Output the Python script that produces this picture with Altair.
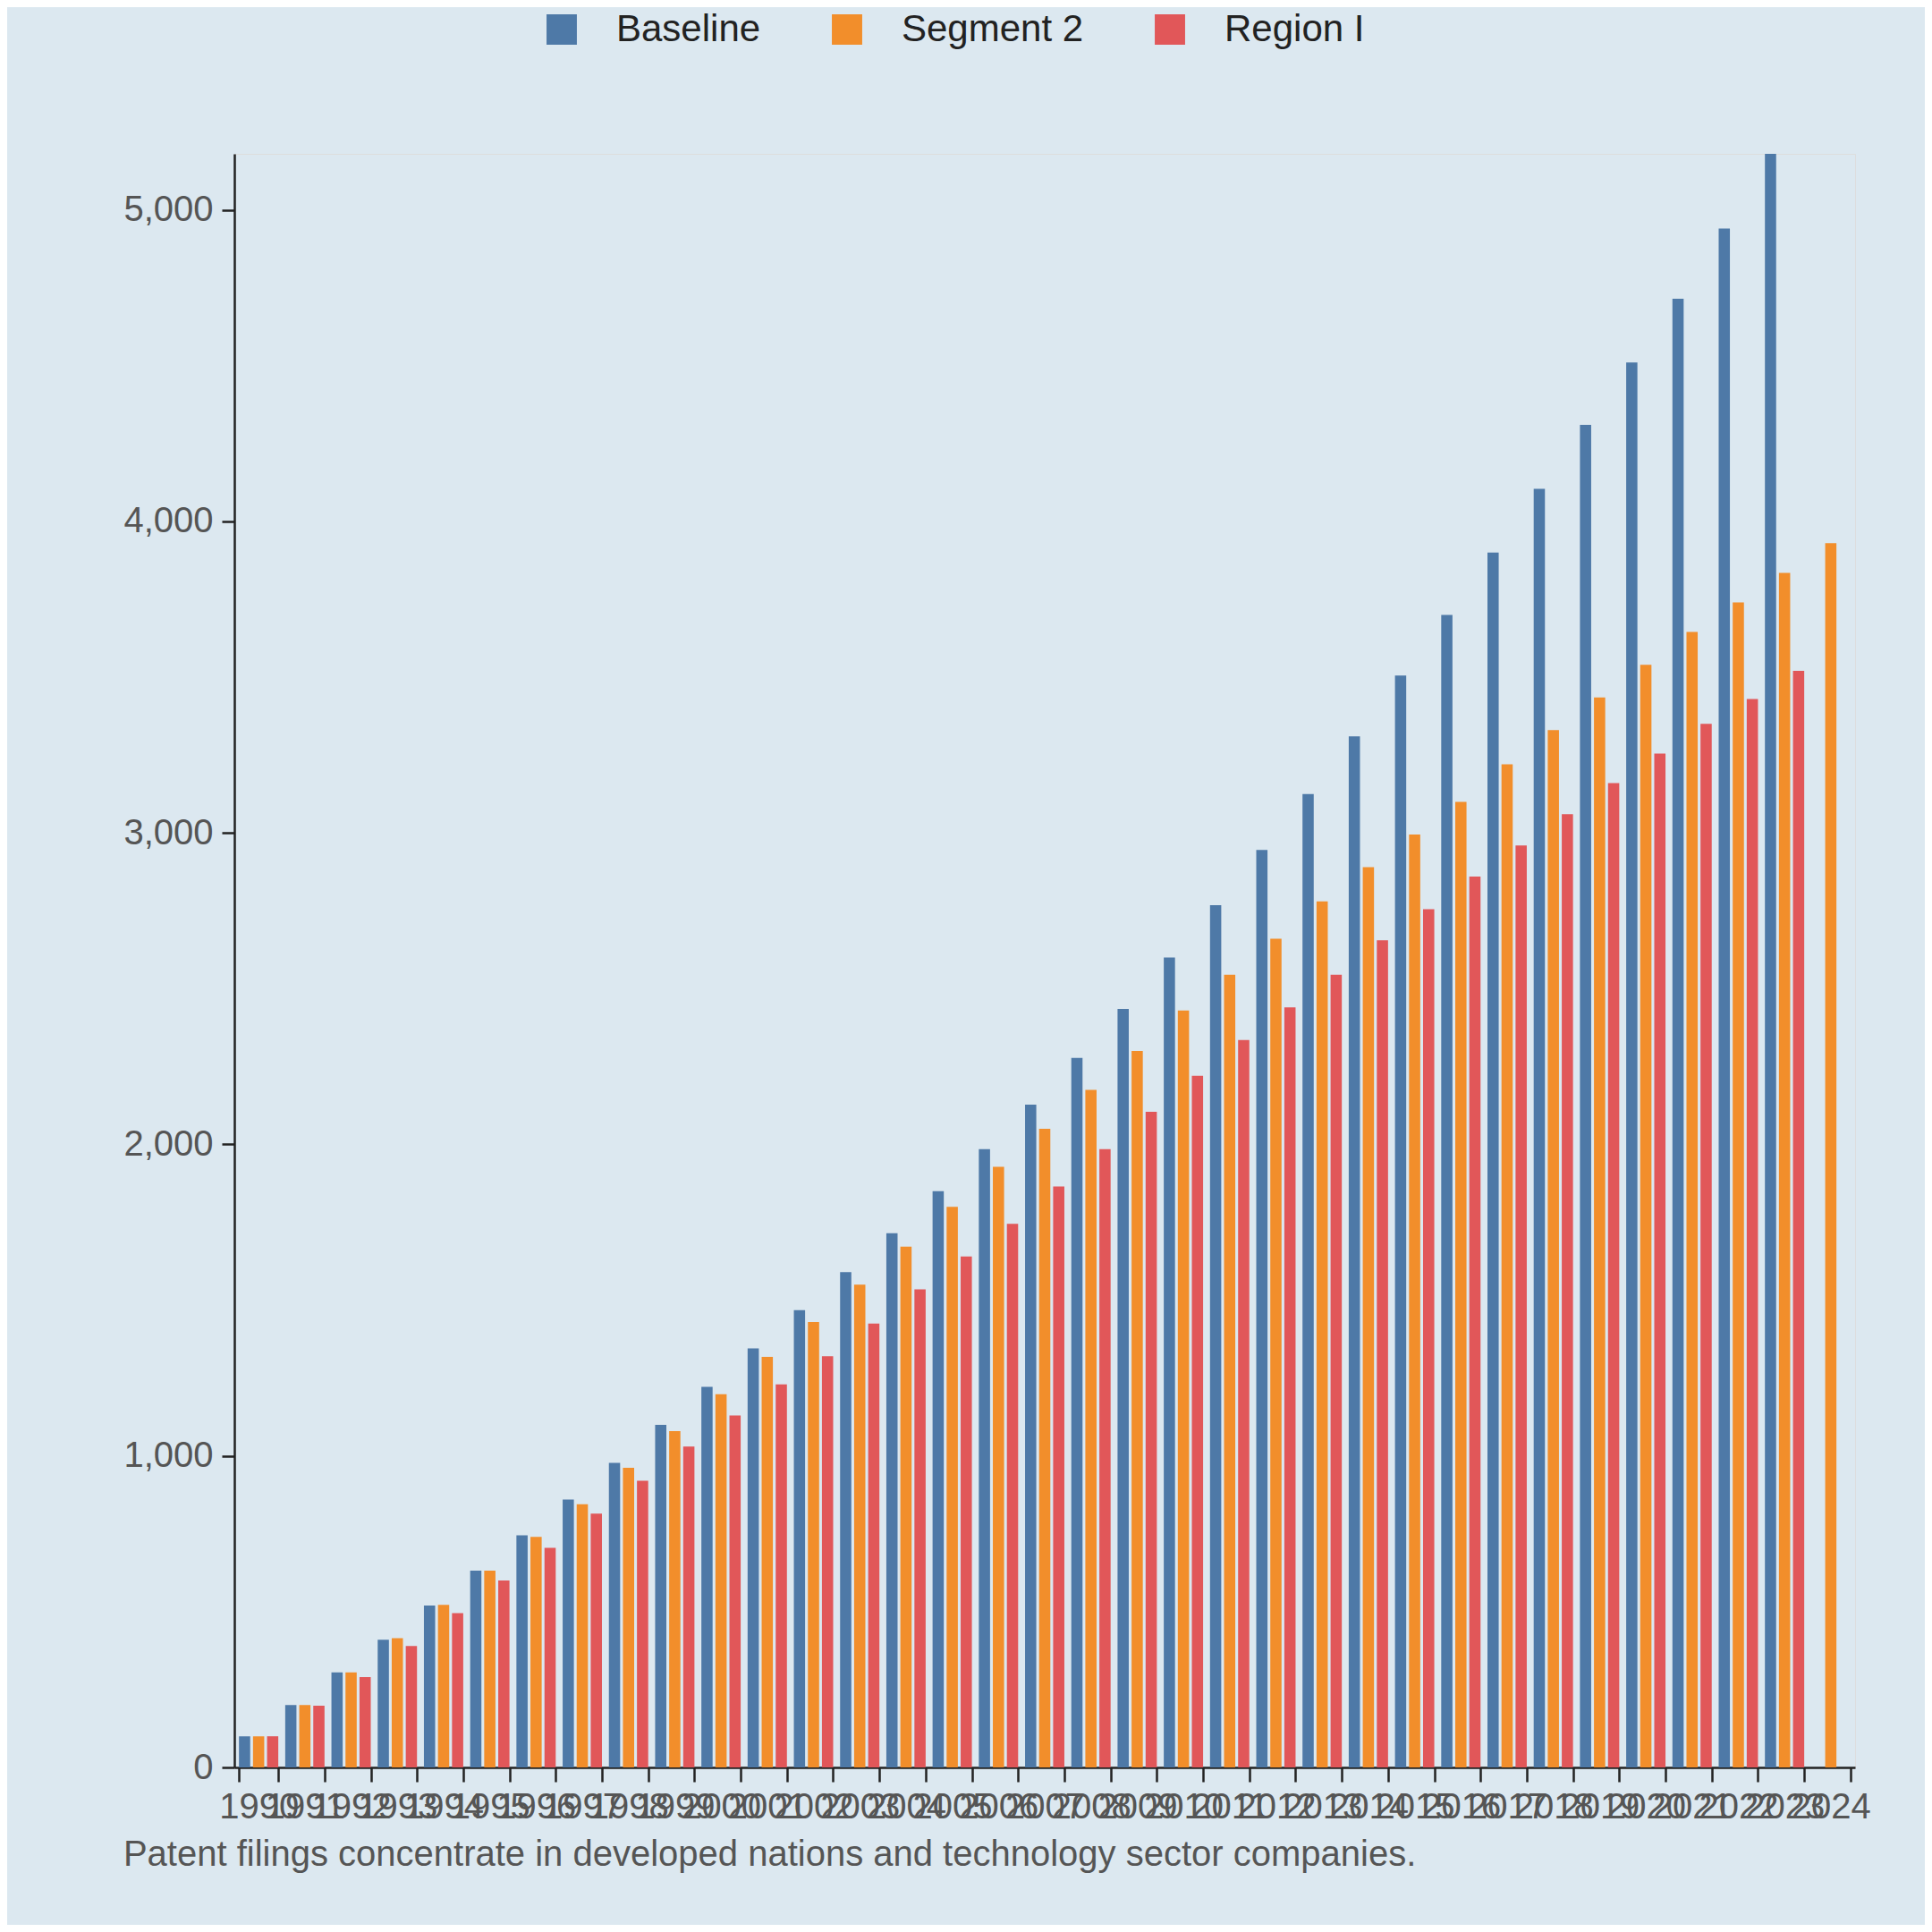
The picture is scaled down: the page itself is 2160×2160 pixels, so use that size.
import altair as alt
import pandas as pd

years = list(range(1990, 2025))
baseline = [100,200,305,410,520,632,745,860,978,1100,1222,1345,1468,1590,1715,1850,1985,2128,2278,2435,2600,2768,2945,3125,3310,3505,3700,3900,4105,4310,4510,4715,4940,5180]
segment2 = [100,200,305,415,522,632,740,845,962,1080,1198,1318,1430,1550,1672,1800,1928,2050,2175,2300,2430,2545,2660,2780,2890,2995,3100,3220,3330,3435,3540,3645,3740,3835,3930]
region1 = [100,198,290,390,495,600,705,815,920,1030,1130,1230,1320,1425,1535,1640,1745,1865,1985,2105,2220,2335,2440,2545,2655,2755,2860,2960,3060,3160,3255,3350,3430,3520]
series = ["Baseline", "Segment 2", "Region I"]
colors = ["#4e79a7", "#f28e2b", "#e15759"]

rows = []
for name, vals in zip(series, [baseline, segment2, region1]):
    for y, v in zip(years, vals):
        rows.append({"year": str(y), "series": name, "value": v})
df = pd.DataFrame(rows)

chart = alt.Chart(df).mark_bar().encode(
    x=alt.X("year:O", sort=[str(y) for y in years],
            scale=alt.Scale(domain=[str(y) for y in years], paddingInner=0.15, paddingOuter=0.1),
            axis=alt.Axis(title=None, labelAngle=0, labelOverlap=False, labelFontSize=40,
                          labelColor="#555555", domainColor="#222222", tickColor="#222222",
                          tickSize=16, tickWidth=2.5, domainWidth=2.5, tickBand="extent", labelPadding=8)),
    xOffset=alt.XOffset("series:N", sort=series, scale=alt.Scale(domain=series, paddingInner=0.2)),
    y=alt.Y("value:Q", scale=alt.Scale(domain=[0, 5180], nice=False),
            axis=alt.Axis(title=None, values=[0,1000,2000,3000,4000,5000],
                          labelExpr="format(datum.value, ',')",
                          grid=False, labelFontSize=40, labelColor="#555555",
                          domainColor="#222222", tickColor="#222222", tickSize=14,
                          tickWidth=2.5, domainWidth=2.5, labelPadding=10)),
    color=alt.Color("series:N", sort=series,
                    scale=alt.Scale(domain=series, range=colors),
                    legend=alt.Legend(title=None, orient="none", direction="horizontal",
                                      legendX=345, legendY=-160,
                                      symbolType="square", symbolSize=1150, labelFontSize=42,
                                      labelColor="#222222", columnPadding=75, labelOffset=40,
                                      labelLimit=0)),
).properties(
    width=1812, height=1804,
    background="#dce8f0",
    autosize=alt.AutoSizeParams(type="none"),
    title=alt.TitleParams("Patent filings concentrate in developed nations and technology sector companies.",
                          orient="bottom", anchor="start", fontSize=40, fontWeight="normal",
                          color="#555555", offset=14),
    padding={"left": 254, "right": 78, "top": 164, "bottom": 176},
).configure_view(stroke=None).configure(font="Liberation Sans")

chart.save("out.html", embed_options={"renderer": "svg", "actions": False})
